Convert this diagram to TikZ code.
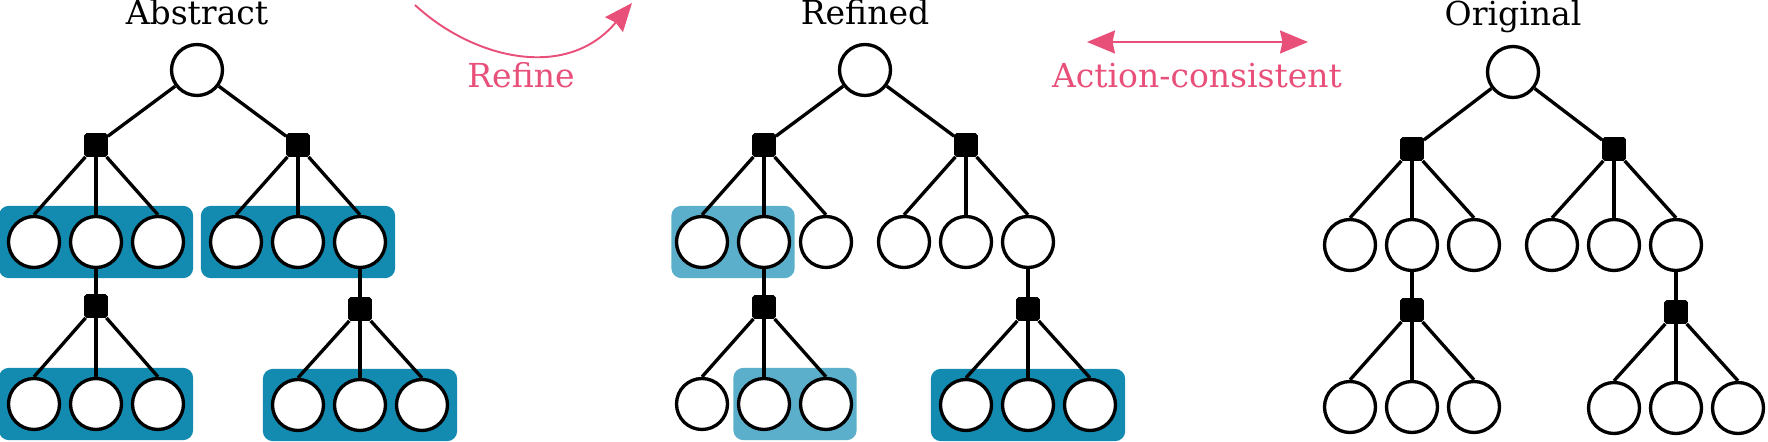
\documentclass[tikz,border=0pt]{standalone}
\usepackage{fontspec}
\setmainfont{DejaVu Serif}
\usepackage{xcolor}
\usetikzlibrary{arrows.meta,fit,backgrounds}
\definecolor{boxdark}{HTML}{138AB0}
\definecolor{boxlight}{HTML}{5BAFCB}
\definecolor{refpink}{HTML}{E8507A}

\begin{document}
\begin{tikzpicture}[x=0.02cm, y=-0.02cm,
    state/.style={circle, draw=black, fill=white, line width=1.9pt,
        minimum size=1.02cm, inner sep=0pt},
    act/.style={rectangle, rounded corners=1pt, fill=black, draw=black,
        line width=1pt, minimum size=0.44cm, inner sep=0pt},
    edge/.style={line width=1.9pt},
    group/.style={rounded corners=0.2cm, inner xsep=0.16cm, inner ysep=0.18cm},
    lgroup/.style={group, inner xsep=0.07cm, fill=boxlight},
    dgroup/.style={group, fill=boxdark},
    title/.style={font=\fontsize{18.8}{22}\selectfont, anchor=base},
    pinktext/.style={title, text=refpink},
    pinkarrow/.style={refpink, line width=1.1pt,
        >={Stealth[length=0.56cm, width=0.46cm, inset=0.05cm]}}]
    \useasboundingbox (0,0) rectangle (1768,442);

    % Abstract
    \node[title] (abs-t) at (197,25) {Abstract};
    \node[state] (abs-r) at (197,70) {};
    \node[act] (abs-a1) at (96,145) {};
    \node[act] (abs-a2) at (298,145) {};
    \node[act] (abs-a3) at (96,306) {};
    \node[act] (abs-a4) at (360,309) {};
    \foreach \i/\x in {1/34,2/96,3/158}
    {
        \node[state] (abs-s1\i) at (\x,242) {};
        \node[state] (abs-s2\i) at (\x+202,242) {};
        \node[state] (abs-s3\i) at (\x,404) {};
        \node[state] (abs-s4\i) at (\x+264,405) {};
    }
    \draw[edge] (abs-r) -- (abs-a1);
    \draw[edge] (abs-r) -- (abs-a2);
    \draw[edge] (abs-s12) -- (abs-a3);
    \draw[edge] (abs-s23) -- (abs-a4);
    \foreach \i in {1,2,3}
    {
        \draw[edge] (abs-a1) -- (abs-s1\i.north);
        \draw[edge] (abs-a2) -- (abs-s2\i.north);
        \draw[edge] (abs-a3) -- (abs-s3\i.north);
        \draw[edge] (abs-a4) -- (abs-s4\i.north);
    }
    \begin{scope}[on background layer]
        \node[dgroup, fit=(abs-s11)(abs-s13)] (abs-g1) {};
        \node[dgroup, fit=(abs-s21)(abs-s23)] (abs-g2) {};
        \node[dgroup, fit=(abs-s31)(abs-s33)] (abs-g3) {};
        \node[dgroup, fit=(abs-s41)(abs-s43)] (abs-g4) {};
    \end{scope}

    % Refined
    \node[title] (ref-t) at (865,25) {Refined};
    \node[state] (ref-r) at (865,70) {};
    \node[act] (ref-a1) at (764,145) {};
    \node[act] (ref-a2) at (966,145) {};
    \node[act] (ref-a3) at (764,307) {};
    \node[act] (ref-a4) at (1028,309) {};
    \foreach \i/\x in {1/702,2/764,3/826}
    {
        \node[state] (ref-s1\i) at (\x,242) {};
        \node[state] (ref-s2\i) at (\x+202,242) {};
        \node[state] (ref-s3\i) at (\x,404) {};
        \node[state] (ref-s4\i) at (\x+264,405) {};
    }
    \draw[edge] (ref-r) -- (ref-a1);
    \draw[edge] (ref-r) -- (ref-a2);
    \draw[edge] (ref-s12) -- (ref-a3);
    \draw[edge] (ref-s23) -- (ref-a4);
    \foreach \i in {1,2,3}
    {
        \draw[edge] (ref-a1) -- (ref-s1\i.north);
        \draw[edge] (ref-a2) -- (ref-s2\i.north);
        \draw[edge] (ref-a3) -- (ref-s3\i.north);
        \draw[edge] (ref-a4) -- (ref-s4\i.north);
    }
    \begin{scope}[on background layer]
        \node[lgroup, fit=(ref-s11)(ref-s12)] (ref-g1) {};
        \node[lgroup, fit=(ref-s32)(ref-s33)] (ref-g3) {};
        \node[dgroup, fit=(ref-s41)(ref-s43)] (ref-g4) {};
    \end{scope}

    % Original
    \node[title] (org-t) at (1513,26) {Original};
    \node[state] (org-r) at (1513,72) {};
    \node[act] (org-a1) at (1412,149) {};
    \node[act] (org-a2) at (1614,149) {};
    \node[act] (org-a3) at (1412,310) {};
    \node[act] (org-a4) at (1676,312) {};
    \foreach \i/\x in {1/1350,2/1412,3/1474}
    {
        \node[state] (org-s1\i) at (\x,245) {};
        \node[state] (org-s2\i) at (\x+202,245) {};
        \node[state] (org-s3\i) at (\x,407) {};
        \node[state] (org-s4\i) at (\x+264,408) {};
    }
    \draw[edge] (org-r) -- (org-a1);
    \draw[edge] (org-r) -- (org-a2);
    \draw[edge] (org-s12) -- (org-a3);
    \draw[edge] (org-s23) -- (org-a4);
    \foreach \i in {1,2,3}
    {
        \draw[edge] (org-a1) -- (org-s1\i.north);
        \draw[edge] (org-a2) -- (org-s2\i.north);
        \draw[edge] (org-a3) -- (org-s3\i.north);
        \draw[edge] (org-a4) -- (org-s4\i.north);
    }

    % arrows between the trees
    \coordinate (refine-from) at (415,5);
    \coordinate (refine-to) at (632,3);
    \draw[pinkarrow, ->] (refine-from) .. controls (472,58) and (566,82) .. (refine-to);
    \node[pinktext] (refine-t) at (521,88) {Refine};
    \coordinate (cons-l) at (1087,42);
    \coordinate (cons-r) at (1308,42);
    \draw[pinkarrow, <->] (cons-l) -- (cons-r);
    \node[pinktext] (cons-t) at (1197,88) {Action-consistent};
\end{tikzpicture}
\end{document}
